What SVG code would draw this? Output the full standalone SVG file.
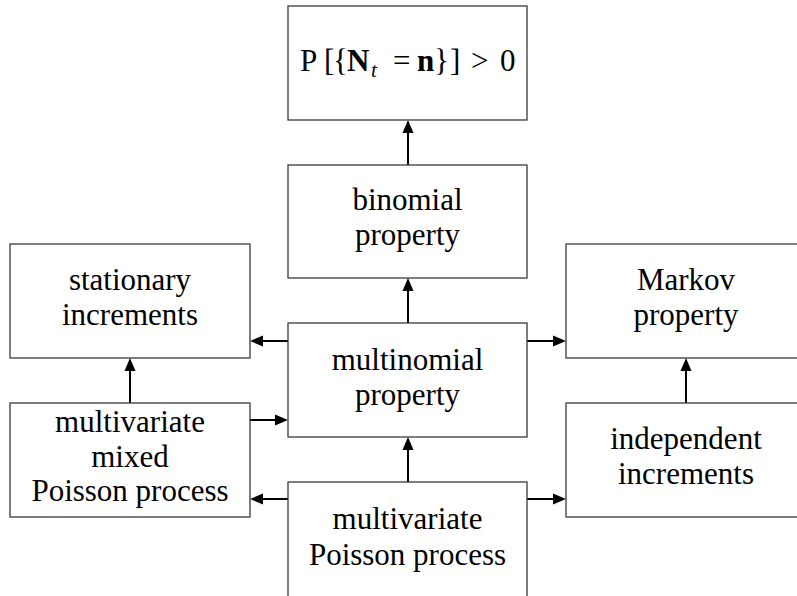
<svg xmlns="http://www.w3.org/2000/svg" width="797" height="596" viewBox="0 0 797 596">
<style>
.box{fill:#fff;stroke:#3a3a3a;stroke-width:1.3}
.lbl{font-family:'Liberation Serif',serif;font-size:31px;fill:#000;text-anchor:middle}
.math{font-family:'Liberation Serif',serif;font-size:31px;fill:#000;text-anchor:start}
.arr{stroke:#000;stroke-width:2;fill:none;marker-end:url(#ah)}
</style>
<defs>
<marker id="ah" markerUnits="userSpaceOnUse" markerWidth="14" markerHeight="12" refX="5" refY="5.5" orient="auto" overflow="visible">
<path d="M0,0 L13,5.5 L0,11 z" fill="#000"/>
</marker>
</defs>
<rect width="797" height="596" fill="#fff"/>
<g id="connectors">
<line class="arr" x1="408" y1="165" x2="408" y2="128"/>
<line class="arr" x1="408" y1="323" x2="408" y2="286"/>
<line class="arr" x1="408" y1="482" x2="408" y2="445"/>
<line class="arr" x1="288" y1="341" x2="258" y2="341"/>
<line class="arr" x1="527" y1="341" x2="558" y2="341"/>
<line class="arr" x1="250" y1="420" x2="280" y2="420"/>
<line class="arr" x1="288" y1="499" x2="258" y2="499"/>
<line class="arr" x1="527" y1="499" x2="558" y2="499"/>
<line class="arr" x1="130" y1="403" x2="130" y2="366"/>
<line class="arr" x1="686" y1="403" x2="686" y2="366"/>
</g>
<g id="n-prob">
<rect class="box" x="288" y="6" width="239" height="114"/>
<text class="math" y="71"><tspan x="300">P</tspan><tspan x="324">[</tspan><tspan x="333">{</tspan><tspan x="347" font-weight="bold">N</tspan><tspan x="371" font-style="italic" font-size="21" dy="6">t</tspan><tspan x="393" dy="-6">=</tspan><tspan x="417" font-weight="bold">n</tspan><tspan x="434">}</tspan><tspan x="450">]</tspan><tspan x="471">&gt;</tspan><tspan x="500">0</tspan></text>
</g>
<g id="n-binomial">
<rect class="box" x="288" y="165" width="239" height="113"/>
<text class="lbl" x="407.5" y="210">binomial</text>
<text class="lbl" x="407.5" y="245">property</text>
</g>
<g id="n-stationary">
<rect class="box" x="10" y="244" width="240" height="114"/>
<text class="lbl" x="130" y="290">stationary</text>
<text class="lbl" x="130" y="325">increments</text>
</g>
<g id="n-multinomial">
<rect class="box" x="288" y="323" width="239" height="114"/>
<text class="lbl" x="407.5" y="370">multinomial</text>
<text class="lbl" x="407.5" y="405">property</text>
</g>
<g id="n-markov">
<rect class="box" x="566" y="244" width="240" height="114"/>
<text class="lbl" x="686" y="290">Markov</text>
<text class="lbl" x="686" y="325">property</text>
</g>
<g id="n-mixed">
<rect class="box" x="10" y="403" width="240" height="114"/>
<text class="lbl" x="130" y="432">multivariate</text>
<text class="lbl" x="130" y="467">mixed</text>
<text class="lbl" x="130" y="501">Poisson process</text>
</g>
<g id="n-independent">
<rect class="box" x="566" y="403" width="240" height="114"/>
<text class="lbl" x="686" y="449">independent</text>
<text class="lbl" x="686" y="484">increments</text>
</g>
<g id="n-poisson">
<rect class="box" x="288" y="482" width="239" height="120"/>
<text class="lbl" x="407.5" y="529">multivariate</text>
<text class="lbl" x="407.5" y="565">Poisson process</text>
</g>
</svg>
